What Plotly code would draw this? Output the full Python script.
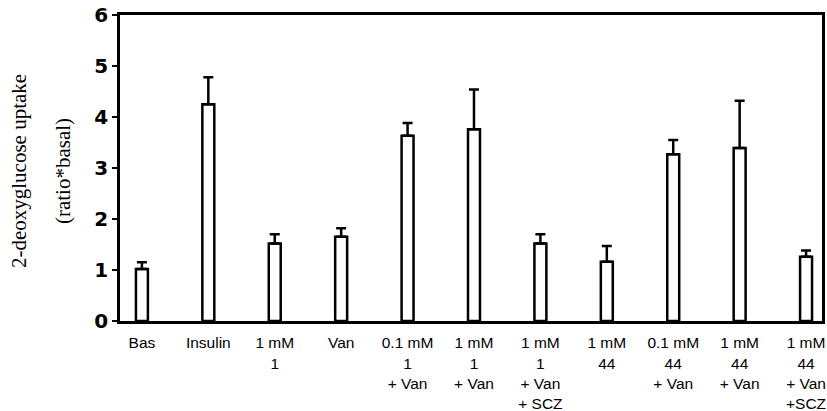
import plotly.graph_objects as go

categories = ["Bas", "Insulin", "1 mM<br>1", "Van", "0.1 mM<br>1<br>+ Van",
              "1 mM<br>1<br>+ Van", "1 mM<br>1<br>+ Van<br>+ SCZ", "1 mM<br>44",
              "0.1 mM<br>44<br>+ Van", "1 mM<br>44<br>+ Van", "1 mM<br>44<br>+ Van<br>+SCZ"]
values = [1.02, 4.25, 1.52, 1.65, 3.63, 3.76, 1.52, 1.16, 3.27, 3.39, 1.26]
err_tops = [1.15, 4.78, 1.70, 1.82, 3.88, 4.54, 1.70, 1.47, 3.55, 4.32, 1.38]
errors = [t - v for t, v in zip(err_tops, values)]
y_ticks = [0, 1, 2, 3, 4, 5, 6]

fig = go.Figure()
fig.add_trace(go.Bar(
    x=categories, y=values, width=0.18,
    marker=dict(color="white", line=dict(color="black", width=2.5)),
    error_y=dict(type="data", array=errors, arrayminus=[0] * len(errors), symmetric=False,
                 color="black", thickness=2.5, width=5),
    showlegend=False,
))

W0, L, R = 827, 120, 5
pw = W0 - L - R

def px2paper(px):
    return (px - L) / pw

fig.update_layout(
    width=827, height=411,
    margin=dict(l=L, r=R, t=15, b=90),
    plot_bgcolor="white", paper_bgcolor="white",
    xaxis=dict(type="category", range=[-0.33, 10.24], showline=True, linecolor="black",
               linewidth=2.5, mirror=True, ticks="", showgrid=False, ticklabelstandoff=6,
               automargin=False,
               tickfont=dict(family="Liberation Sans, Arial", size=15.5, color="black")),
    yaxis=dict(range=[0, 6], tickvals=y_ticks, showline=True, linecolor="black",
               linewidth=2.5, mirror=True, ticks="outside", ticklen=5, tickwidth=2,
               tickcolor="black", showgrid=False, zeroline=False, ticklabelstandoff=0,
               automargin=False,
               tickfont=dict(family="DejaVu Sans", size=20, color="black", weight="bold")),
    annotations=[
        dict(text="2-deoxyglucose uptake", xref="paper", yref="paper", x=px2paper(19), y=0.49,
             xanchor="center", yanchor="middle", textangle=-90, showarrow=False,
             font=dict(family="Liberation Serif, Times New Roman", size=21, color="black")),
        dict(text="(ratio*basal)", xref="paper", yref="paper", x=px2paper(63), y=0.49,
             xanchor="center", yanchor="middle", textangle=-90, showarrow=False,
             font=dict(family="Liberation Serif, Times New Roman", size=21, color="black")),
    ],
)

fig.write_html("out.html", config={"displayModeBar": False},
               post_script="document.body.style.margin='0';document.body.style.overflow='hidden';")
